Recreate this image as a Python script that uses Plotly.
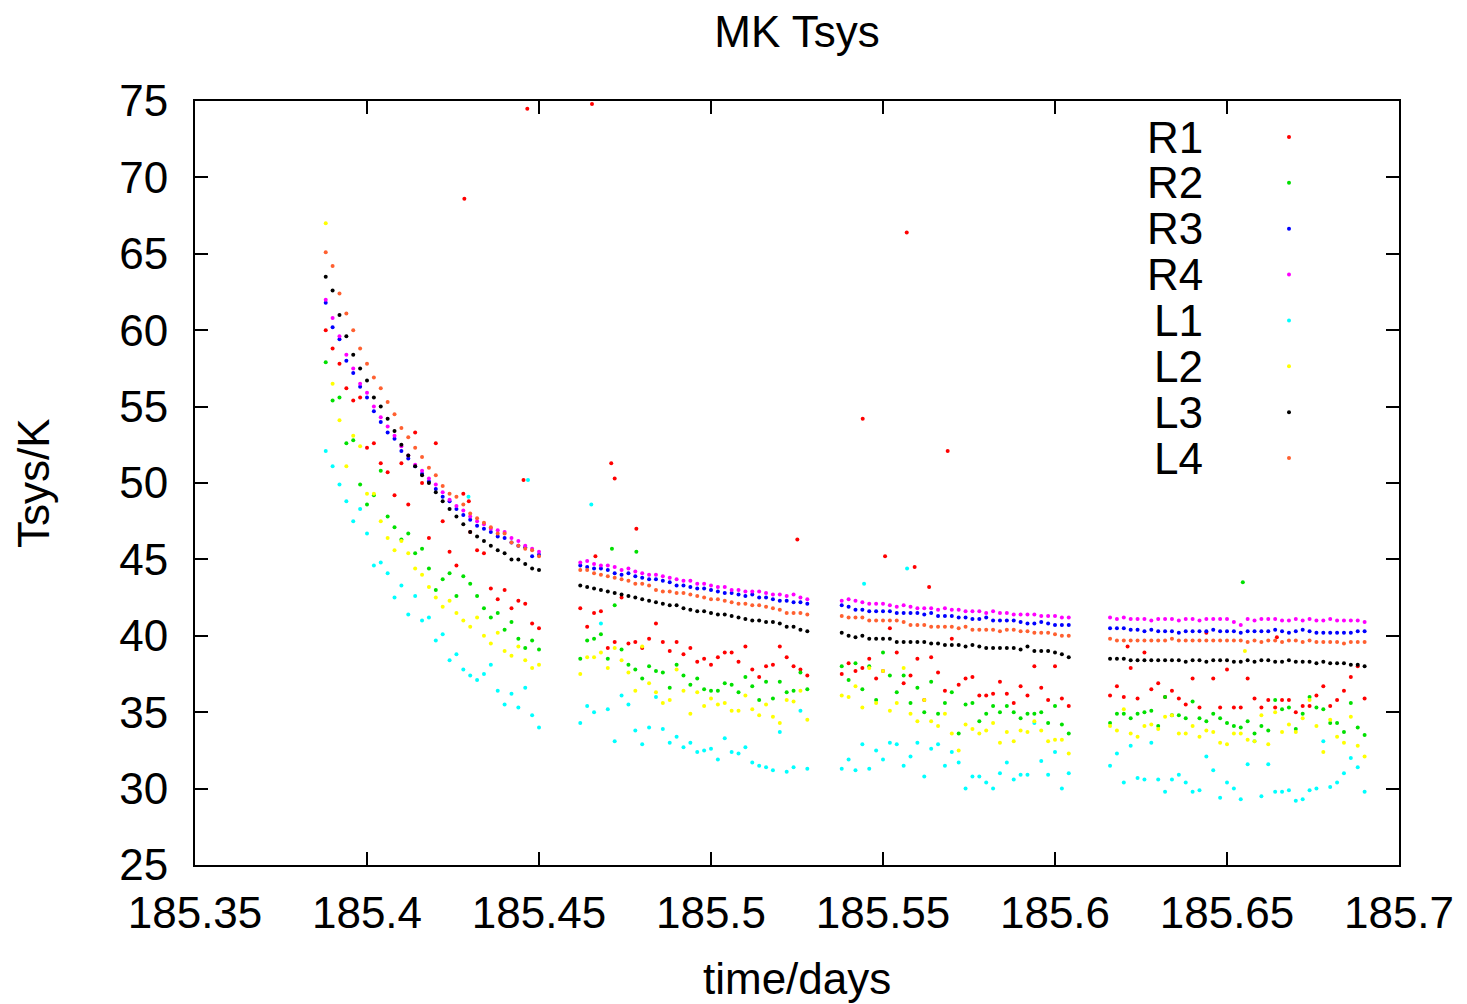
import plotly.graph_objects as go

# ---------------- time samples (days) ----------------
t_seg1 = [185.388, 185.390, 185.392, 185.394, 185.396, 185.398, 185.400, 185.402,
          185.404, 185.406, 185.408, 185.410, 185.412, 185.414, 185.416, 185.418,
          185.420, 185.422, 185.424, 185.426, 185.428, 185.430, 185.432, 185.434,
          185.436, 185.438, 185.440, 185.442, 185.444, 185.446, 185.448, 185.450]
t_seg2 = [185.462, 185.464, 185.466, 185.468, 185.470, 185.472, 185.474, 185.476,
          185.478, 185.480, 185.482, 185.484, 185.486, 185.488, 185.490, 185.492,
          185.494, 185.496, 185.498, 185.500, 185.502, 185.504, 185.506, 185.508,
          185.510, 185.512, 185.514, 185.516, 185.518, 185.520, 185.522, 185.524,
          185.526, 185.528]
t_seg3 = [185.538, 185.540, 185.542, 185.544, 185.546, 185.548, 185.550, 185.552,
          185.554, 185.556, 185.558, 185.560, 185.562, 185.564, 185.566, 185.568,
          185.570, 185.572, 185.574, 185.576, 185.578, 185.580, 185.582, 185.584,
          185.586, 185.588, 185.590, 185.592, 185.594, 185.596, 185.598, 185.600,
          185.602, 185.604]
t_seg4 = [185.616, 185.618, 185.620, 185.622, 185.624, 185.626, 185.628, 185.630,
          185.632, 185.634, 185.636, 185.638, 185.640, 185.642, 185.644, 185.646,
          185.648, 185.650, 185.652, 185.654, 185.656, 185.658, 185.660, 185.662,
          185.664, 185.666, 185.668, 185.670, 185.672, 185.674, 185.676, 185.678,
          185.680, 185.682, 185.684, 185.686, 185.688, 185.690]
time = t_seg1 + t_seg2 + t_seg3 + t_seg4

# ---------------- Tsys values (K), one list per channel ----------------
r1 = [60.0, 58.8, 57.8, 56.2, 55.4, 55.6, 52.3, 52.6, 51.3, 50.7, 49.2, 51.3, 48.6, 53.3, 50.0, 46.4,
      52.6, 47.5, 45.5, 44.6, 49.3, 46.8, 45.6, 45.4, 43.1, 42.4, 43.0, 41.8, 42.3, 42.1, 40.8, 40.5,
      41.8, 40.6, 41.5, 41.6, 39.2, 39.6, 42.5, 39.5, 39.6, 39.2, 39.8, 40.8, 39.6, 39.0, 39.6, 38.8, 39.2,
      38.3, 38.5, 38.1, 38.6, 38.9, 38.9, 38.3, 39.3, 37.8, 37.3, 38.0, 38.1, 39.3, 38.6, 38.0, 37.8, 37.4,
      37.5, 38.2, 37.7, 37.9, 38.5, 37.2, 37.7, 40.5, 38.9, 36.9, 37.4, 38.5, 35.8, 38.6, 37.6, 36.4, 39.8,
      36.8, 37.2, 37.3, 36.1, 36.1, 36.2, 37.0, 36.2, 35.6, 36.7, 36.1, 38.0, 36.6, 35.8, 38.0, 35.9, 35.4,
      36.1, 36.7, 36.0, 37.9, 35.9, 38.9, 36.5, 36.9, 36.0, 36.4, 35.9, 35.5, 37.2, 35.3, 40.2, 37.2, 35.3,
      37.8, 35.3, 35.3, 37.2, 35.9, 35.3, 35.8, 35.3, 35.8, 35.8, 35.0, 35.4, 35.4, 36.1, 36.7, 35.4, 35.8,
      36.4, 37.3, 38.0, 35.9]
r2 = [57.9, 55.4, 55.6, 52.6, 52.8, 49.9, 48.6, 49.2, 50.8, 47.8, 47.1, 46.3, 46.7, 45.4, 45.7, 44.4,
      43.0, 43.7, 44.1, 42.6, 43.9, 43.4, 42.6, 41.8, 41.2, 41.5, 40.4, 40.9, 39.8, 39.2, 39.7, 39.1,
      38.5, 39.7, 39.8, 40.1, 38.5, 42.0, 39.1, 38.1, 37.8, 37.2, 38.0, 37.7, 37.6, 36.6, 38.1, 37.4, 36.8,
      37.2, 36.5, 36.4, 36.4, 36.9, 36.8, 36.3, 37.3, 36.7, 35.8, 37.0, 35.9, 37.0, 36.3, 36.4, 37.6, 36.5,
      38.0, 37.1, 38.2, 36.5, 38.0, 35.8, 38.9, 37.4, 36.3, 37.4, 35.6, 36.6, 35.0, 37.0, 34.9, 35.6, 36.3,
      33.6, 35.5, 35.6, 34.4, 34.9, 35.4, 35.0, 35.4, 35.0, 34.6, 34.9, 34.9, 35.0, 34.3, 35.4, 34.2, 33.6,
      34.3, 34.9, 34.9, 34.6, 34.9, 35.0, 35.1, 34.1, 36.0, 34.8, 34.8, 34.6, 35.7, 34.6, 34.4, 34.9, 34.6,
      34.3, 34.1, 34.0, 34.4, 33.6, 34.1, 33.8, 35.8, 35.2, 35.3, 33.9, 34.9, 36.0, 35.3, 35.2, 34.3, 34.3,
      33.7, 35.6, 34.0, 33.5]
r3 = [61.8, 60.2, 59.4, 58.0, 57.2, 56.3, 55.6, 54.7, 54.0, 53.3, 52.9, 52.1, 51.6, 51.1, 50.6, 50.1,
      49.6, 49.1, 48.8, 48.3, 47.9, 47.6, 47.2, 47.0, 46.8, 46.5, 46.4, 46.1, 45.9, 45.8, 45.2, 45.3,
      44.6, 44.5, 44.4, 44.4, 44.3, 44.1, 44.0, 44.1, 43.9, 43.8, 43.7, 43.7, 43.6, 43.5, 43.3, 43.3, 43.2,
      43.1, 43.1, 43.0, 42.9, 42.8, 42.8, 42.7, 42.6, 42.7, 42.5, 42.5, 42.4, 42.3, 42.3, 42.2, 42.2, 42.1,
      42.0, 41.9, 41.7, 41.7, 41.6, 41.6, 41.6, 41.6, 41.5, 41.5, 41.5, 41.5, 41.4, 41.5, 41.3, 41.3, 41.3,
      41.2, 41.2, 41.1, 41.1, 41.2, 41.0, 41.0, 41.0, 41.0, 40.9, 40.8, 40.8, 40.9, 40.8, 40.7, 40.7, 40.7,
      40.5, 40.5, 40.5, 40.4, 40.4, 40.3, 40.4, 40.3, 40.3, 40.3, 40.2, 40.3, 40.3, 40.3, 40.3, 40.4, 40.3,
      40.3, 40.3, 40.2, 40.3, 40.3, 40.3, 40.3, 40.4, 40.3, 40.2, 40.3, 40.4, 40.3, 40.2, 40.2, 40.2, 40.2,
      40.2, 40.2, 40.3, 40.3]
r4 = [62.0, 60.8, 59.6, 58.4, 57.5, 56.5, 55.9, 55.0, 54.3, 53.7, 53.1, 52.4, 51.8, 51.2, 50.8, 50.3,
      49.9, 49.4, 48.9, 48.5, 48.2, 47.8, 47.5, 47.3, 47.0, 46.9, 46.8, 46.4, 46.2, 45.9, 45.7, 45.5,
      44.8, 44.9, 44.7, 44.6, 44.6, 44.5, 44.3, 44.4, 44.2, 44.1, 44.0, 44.0, 43.9, 43.8, 43.7, 43.6, 43.6,
      43.4, 43.4, 43.3, 43.2, 43.2, 43.0, 43.0, 42.9, 42.9, 42.9, 42.8, 42.7, 42.7, 42.6, 42.7, 42.5, 42.4,
      42.3, 42.4, 42.3, 42.2, 42.1, 42.1, 42.1, 42.0, 41.9, 42.0, 41.9, 41.8, 41.8, 41.8, 41.7, 41.8, 41.7,
      41.7, 41.6, 41.6, 41.6, 41.5, 41.6, 41.5, 41.5, 41.4, 41.4, 41.4, 41.4, 41.3, 41.3, 41.3, 41.2, 41.2,
      41.2, 41.1, 41.2, 41.1, 41.1, 41.1, 41.0, 41.1, 41.1, 41.1, 41.0, 41.1, 41.1, 41.0, 41.1, 41.1, 41.1,
      41.1, 40.9, 40.7, 41.1, 41.0, 41.1, 41.1, 41.1, 41.0, 41.0, 41.1, 41.0, 41.1, 41.0, 41.0, 41.1, 41.0,
      41.0, 41.0, 41.0, 40.9]
l1 = [52.1, 51.1, 49.9, 48.8, 47.5, 48.3, 46.7, 44.6, 44.8, 44.1, 42.5, 43.3, 41.4, 42.6, 41.0, 41.2,
      39.7, 40.1, 38.4, 38.8, 37.8, 37.4, 37.1, 37.5, 38.1, 36.4, 35.5, 36.2, 35.3, 36.6, 34.8, 34.0,
      34.3, 35.4, 35.0, 40.8, 35.2, 33.1, 36.1, 35.5, 33.8, 32.9, 34.0, 36.0, 33.9, 33.0, 33.4, 32.7, 33.0,
      32.4, 32.5, 32.6, 31.9, 33.3, 32.4, 32.3, 32.7, 31.7, 31.5, 31.4, 31.2, 33.7, 31.1, 31.4, 35.1, 31.3,
      31.3, 31.9, 31.2, 32.9, 31.3, 32.5, 31.9, 33.0, 32.9, 31.5, 32.1, 33.0, 30.8, 32.6, 32.9, 31.5, 32.4,
      31.7, 30.0, 30.8, 30.8, 30.4, 30.0, 31.0, 31.7, 30.6, 30.9, 30.9, 34.3, 31.8, 30.9, 32.4, 30.0, 31.0,
      31.5, 32.3, 30.4, 32.8, 30.7, 30.6, 33.0, 30.6, 29.8, 30.6, 30.9, 30.4, 29.8, 29.9, 32.1, 31.2, 29.4,
      30.4, 30.0, 29.3, 31.6, 33.1, 29.5, 31.6, 29.8, 29.8, 29.9, 29.2, 29.3, 29.9, 30.0, 33.1, 30.1, 30.4,
      31.0, 32.0, 31.4, 29.8]
l2 = [67.0, 56.5, 54.1, 51.1, 53.1, 52.4, 49.3, 49.3, 47.5, 46.4, 45.6, 46.2, 45.4, 44.4, 44.0, 43.2,
      42.5, 41.9, 42.3, 41.5, 41.0, 40.6, 41.2, 40.0, 39.5, 40.2, 39.0, 38.7, 39.3, 38.4, 37.9, 38.1,
      37.5, 38.6, 38.6, 38.9, 37.9, 39.2, 38.4, 37.6, 36.4, 39.3, 36.9, 36.3, 35.6, 35.8, 37.8, 36.4, 34.9,
      36.3, 35.4, 35.9, 35.5, 35.6, 35.1, 35.1, 36.1, 35.2, 34.8, 35.5, 34.7, 34.3, 35.8, 35.7, 36.4, 34.5,
      36.1, 36.0, 36.7, 35.3, 37.9, 35.6, 37.7, 35.1, 35.6, 37.9, 34.9, 34.4, 35.8, 34.4, 34.1, 34.9, 33.6,
      32.5, 34.2, 33.9, 33.6, 33.8, 34.3, 33.0, 33.7, 33.1, 33.8, 33.7, 34.4, 33.8, 33.1, 33.2, 33.2, 32.3,
      34.1, 33.8, 35.2, 33.6, 33.4, 34.1, 34.2, 33.9, 34.7, 34.8, 33.6, 33.6, 34.1, 33.4, 33.8, 33.7, 33.0,
      32.9, 33.6, 33.6, 33.2, 33.1, 34.8, 32.9, 35.0, 33.7, 34.2, 33.7, 34.6, 35.8, 34.1, 32.4, 34.5, 33.4,
      33.0, 34.7, 32.8, 32.1]
l3 = [63.5, 62.6, 61.0, 59.6, 58.4, 57.5, 56.7, 55.6, 55.0, 54.2, 53.4, 52.5, 51.8, 51.1, 50.5, 50.0,
      49.4, 48.8, 48.3, 47.8, 47.3, 46.8, 46.5, 46.2, 45.9, 45.6, 45.4, 45.0, 45.0, 44.7, 44.4, 44.3,
      43.3, 43.2, 43.1, 43.0, 42.9, 42.8, 42.7, 42.6, 42.5, 42.4, 42.3, 42.2, 42.1, 42.0, 42.0, 41.8, 41.7,
      41.6, 41.6, 41.5, 41.4, 41.4, 41.3, 41.2, 41.1, 41.0, 41.0, 40.9, 40.9, 40.8, 40.6, 40.6, 40.4, 40.3,
      40.2, 40.0, 39.9, 40.0, 39.8, 39.8, 39.8, 39.8, 39.6, 39.6, 39.6, 39.6, 39.6, 39.5, 39.5, 39.4, 39.4,
      39.4, 39.3, 39.4, 39.3, 39.2, 39.2, 39.2, 39.2, 39.2, 39.1, 39.3, 39.0, 39.0, 39.0, 38.9, 38.8, 38.6,
      38.5, 38.5, 38.5, 38.4, 38.4, 38.4, 38.4, 38.4, 38.4, 38.4, 38.4, 38.3, 38.4, 38.4, 38.3, 38.4, 38.4,
      38.4, 38.3, 38.3, 38.4, 38.3, 38.4, 38.4, 38.3, 38.3, 38.4, 38.3, 38.3, 38.3, 38.2, 38.3, 38.2, 38.2,
      38.2, 38.1, 38.1, 38.0]
l4 = [65.1, 64.2, 62.4, 61.1, 60.0, 58.8, 57.8, 56.9, 56.2, 55.3, 54.5, 53.6, 53.0, 52.3, 51.7, 51.0,
      50.5, 49.8, 49.3, 49.1, 48.6, 48.0, 47.7, 47.4, 47.1, 46.7, 46.7, 46.1, 45.9, 45.7, 45.6, 45.2,
      44.3, 44.3, 44.1, 44.0, 43.9, 43.8, 43.7, 43.6, 43.4, 43.4, 43.3, 43.0, 42.9, 42.9, 42.8, 42.8, 42.7,
      42.6, 42.5, 42.4, 42.4, 42.3, 42.2, 42.1, 42.1, 42.0, 42.0, 41.9, 41.8, 41.7, 41.5, 41.5, 41.5, 41.4,
      41.3, 41.2, 41.2, 41.2, 41.0, 41.0, 41.0, 41.0, 41.0, 40.9, 40.7, 40.7, 40.7, 40.6, 40.6, 40.6, 40.6,
      40.5, 40.6, 40.4, 40.4, 40.4, 40.4, 40.3, 40.4, 40.4, 40.3, 40.3, 40.2, 40.2, 40.2, 40.1, 40.0, 40.0,
      39.8, 39.7, 39.7, 39.7, 39.7, 39.7, 39.7, 39.7, 39.7, 39.8, 39.7, 39.7, 39.7, 39.7, 39.7, 39.7, 39.7,
      39.7, 39.7, 39.7, 39.6, 39.7, 39.6, 39.7, 39.7, 39.6, 39.7, 39.7, 39.6, 39.7, 39.6, 39.6, 39.6, 39.6,
      39.5, 39.6, 39.6, 39.6]

# isolated extra readings (spikes) off the regular sampling grid
r1_extra_t = [185.4283, 185.4296, 185.4455, 185.4466, 185.4654, 185.4664, 185.4710, 185.4720,
              185.4783, 185.5251, 185.5441, 185.5506, 185.5569, 185.5592, 185.5634, 185.5688,
              185.6211, 185.6645]
r1_extra_v = [68.6, 48.8, 50.2, 74.5, 74.8, 45.2, 51.3, 50.3, 47.0, 46.3, 54.2, 45.2, 66.4, 44.5,
              43.2, 52.1, 39.3, 39.9]
r2_extra_t = [185.4712, 185.4783, 185.6546]
r2_extra_v = [45.7, 45.5, 43.5]
l1_extra_t = [185.4295, 185.4468, 185.4652, 185.5445, 185.5570]
l1_extra_v = [49.1, 50.2, 48.6, 43.4, 44.4]
l2_extra_t = [185.6552]
l2_extra_v = [39.0]

series_names = ["R1", "R2", "R3", "R4", "L1", "L2", "L3", "L4"]
series_values = [r1, r2, r3, r4, l1, l2, l3, l4]
extra_t = {"R1": r1_extra_t, "R2": r2_extra_t, "L1": l1_extra_t, "L2": l2_extra_t}
extra_v = {"R1": r1_extra_v, "R2": r2_extra_v, "L1": l1_extra_v, "L2": l2_extra_v}
colors = ["#ff0000", "#00e000", "#0000ff", "#ff00ff", "#00ffff", "#ffff00", "#000000", "#ff6030"]

x_ticks = [185.35, 185.4, 185.45, 185.5, 185.55, 185.6, 185.65, 185.7]
x_tick_labels = ["185.35", "185.4", "185.45", "185.5", "185.55", "185.6", "185.65", "185.7"]
y_ticks = [25, 30, 35, 40, 45, 50, 55, 60, 65, 70, 75]
y_tick_labels = ["25", "30", "35", "40", "45", "50", "55", "60", "65", "70", "75"]

FONT = "Liberation Sans, Arial, Helvetica, sans-serif"

fig = go.Figure()
for name, vals, col in zip(series_names, series_values, colors):
    xs = list(time) + extra_t.get(name, [])
    ys = list(vals) + extra_v.get(name, [])
    fig.add_trace(go.Scatter(x=xs, y=ys, mode="markers", name=name,
                             marker=dict(color=col, size=4, line=dict(width=0)),
                             showlegend=False))

# plot-area geometry (pixels) for the hand-placed key
L, R, T, B = 195, 1399, 101, 865
W, H = R - L, B - T

annotations = []
shapes = []
for k, (name, col) in enumerate(zip(series_names, colors)):
    yc = 137 + 45.86 * k
    yp = 1 - (yc - T) / H
    annotations.append(dict(text=name, xref="paper", yref="paper", x=(1205 - L) / W, y=yp,
                            xanchor="right", yanchor="middle", showarrow=False,
                            font=dict(family=FONT, size=44, color="black")))
    shapes.append(dict(type="circle", xref="paper", yref="paper", xsizemode="pixel",
                       ysizemode="pixel", xanchor=(1289 - L) / W, yanchor=yp,
                       x0=-2, x1=2, y0=-2, y1=2, fillcolor=col, line=dict(width=0)))

annotations.append(dict(text="time/days", xref="paper", yref="paper", x=0.5,
                        y=-(978 - B) / H, xanchor="center", yanchor="middle", showarrow=False,
                        font=dict(family=FONT, size=44, color="black")))
annotations.append(dict(text="Tsys/K", xref="paper", yref="paper", x=(33 - L) / W, y=0.5,
                        xanchor="center", yanchor="middle", textangle=-90, showarrow=False,
                        font=dict(family=FONT, size=44, color="black")))

axis_common = dict(ticks="inside", ticklen=13, tickwidth=2, tickcolor="black",
                   showline=True, linewidth=2, linecolor="black", mirror="ticks",
                   showgrid=False, zeroline=False,
                   tickfont=dict(family=FONT, size=44, color="black"))

fig.update_layout(
    width=1467, height=1004,
    margin=dict(l=L, r=1467 - R, t=T, b=1004 - B),
    plot_bgcolor="white", paper_bgcolor="white",
    showlegend=False,
    font=dict(family=FONT, size=44, color="black"),
    title=dict(text="MK Tsys", x=0.5, xref="paper", xanchor="center",
               y=1 - 32 / 1004, yref="container", yanchor="middle",
               font=dict(family=FONT, size=44, color="black")),
    xaxis=dict(range=[185.35, 185.7], tickvals=x_ticks, ticktext=x_tick_labels,
               ticklabelstandoff=8, **axis_common),
    yaxis=dict(range=[25, 75], tickvals=y_ticks, ticktext=y_tick_labels,
               ticklabelstandoff=16, **axis_common),
    annotations=annotations,
    shapes=shapes,
)

fig.write_html("out.html", config={"displayModeBar": False},
               post_script="document.body.style.margin='0';")
